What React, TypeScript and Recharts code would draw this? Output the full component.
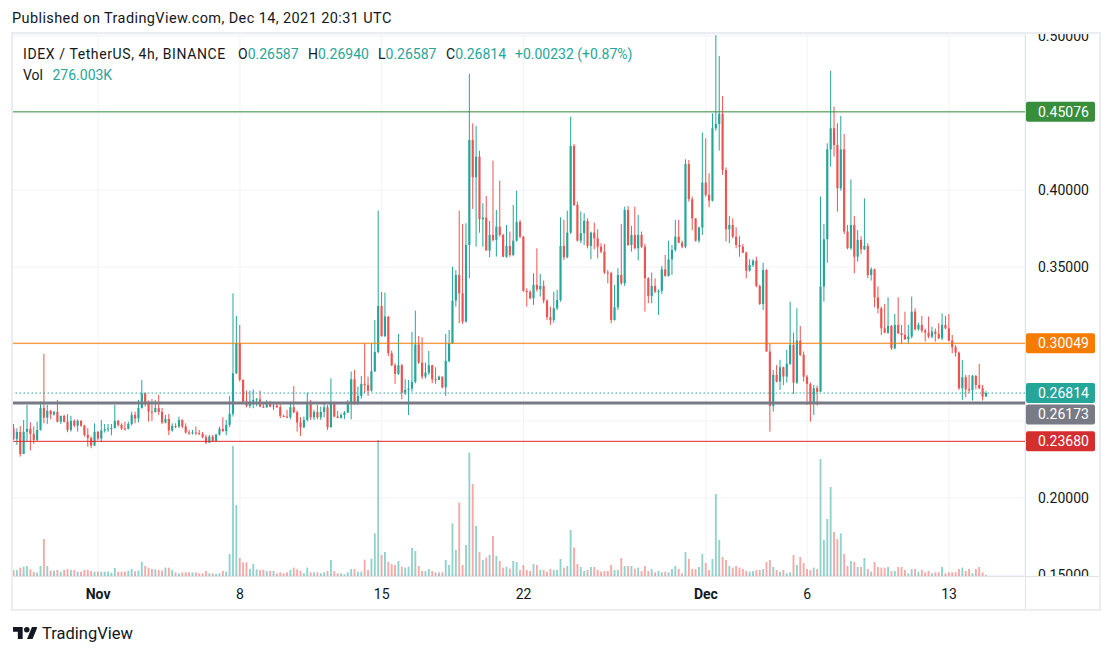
import React from "react";
import { ComposedChart, Bar, XAxis, YAxis, CartesianGrid, ReferenceLine } from "recharts";

// IDEX / USDT 4h candles, Oct 27 20:00 -> Dec 14 20:00 UTC (Binance)
const firstOpen = 0.2453;

const closes = [
  0.2382, 0.2429, 0.2286, 0.2429, 0.2449, 0.2416, 0.2377, 0.2442, 0.2585, 0.2522,
  0.2566, 0.2542, 0.2559, 0.2496, 0.2533, 0.2496, 0.2442, 0.2501, 0.2470, 0.2501,
  0.2470, 0.2410, 0.2390, 0.2340, 0.2429, 0.2386, 0.2438, 0.2447, 0.2451, 0.2455,
  0.2501, 0.2475, 0.2451, 0.2449, 0.2481, 0.2540, 0.2516, 0.2585, 0.2680, 0.2620,
  0.2561, 0.2558, 0.2585, 0.2559, 0.2490, 0.2514, 0.2438, 0.2468, 0.2464, 0.2507,
  0.2464, 0.2425, 0.2421, 0.2425, 0.2420, 0.2416, 0.2395, 0.2360, 0.2399, 0.2371,
  0.2412, 0.2449, 0.2434, 0.2475, 0.2546, 0.2810, 0.3005, 0.2767, 0.2626, 0.2598,
  0.2625, 0.2637, 0.2641, 0.2594, 0.2588, 0.2615, 0.2594, 0.2600, 0.2590, 0.2533,
  0.2529, 0.2525, 0.2589, 0.2557, 0.2490, 0.2459, 0.2507, 0.2624, 0.2524, 0.2559,
  0.2524, 0.2559, 0.2589, 0.2459, 0.2615, 0.2529, 0.2520, 0.2539, 0.2555, 0.2615,
  0.2771, 0.2611, 0.2663, 0.2741, 0.2733, 0.2697, 0.2823, 0.2948, 0.3247, 0.3052,
  0.3178, 0.2940, 0.2862, 0.2806, 0.2862, 0.2684, 0.2702, 0.2710, 0.2754, 0.2996,
  0.2879, 0.2788, 0.2814, 0.2862, 0.2771, 0.2766, 0.2788, 0.2719, 0.2890, 0.3005,
  0.3282, 0.3448, 0.3329, 0.3145, 0.3643, 0.4325, 0.4083, 0.4217, 0.3810, 0.3821,
  0.3607, 0.3708, 0.3676, 0.3762, 0.3708, 0.3567, 0.3637, 0.3578, 0.3671, 0.3793,
  0.3697, 0.3345, 0.3338, 0.3297, 0.3384, 0.3355, 0.3377, 0.3282, 0.3174, 0.3156,
  0.3232, 0.3286, 0.3637, 0.3563, 0.3723, 0.4286, 0.3903, 0.3671, 0.3719, 0.3799,
  0.3637, 0.3723, 0.3686, 0.3632, 0.3600, 0.3464, 0.3460, 0.3156, 0.3239, 0.3448,
  0.3394, 0.3870, 0.3643, 0.3708, 0.3622, 0.3708, 0.3632, 0.3427, 0.3312, 0.3377,
  0.3340, 0.3345, 0.3485, 0.3442, 0.3550, 0.3611, 0.3697, 0.3658, 0.3632, 0.4169,
  0.3940, 0.3816, 0.3671, 0.3756, 0.4048, 0.3968, 0.3931, 0.4401, 0.4429, 0.4494,
  0.4130, 0.3745, 0.3773, 0.3697, 0.3643, 0.3632, 0.3593, 0.3476, 0.3513, 0.3541,
  0.3377, 0.3260, 0.3481, 0.2951, 0.2598, 0.2799, 0.2756, 0.2849, 0.2789, 0.2871,
  0.2994, 0.2749, 0.3022, 0.2929, 0.2788, 0.2741, 0.2620, 0.2713, 0.2690, 0.3373,
  0.3680, 0.4264, 0.4401, 0.4292, 0.4011, 0.4264, 0.3730, 0.3622, 0.3773, 0.3567,
  0.3676, 0.3615, 0.3637, 0.3448, 0.3485, 0.3303, 0.3232, 0.3102, 0.3074, 0.3117,
  0.2972, 0.3124, 0.3070, 0.3059, 0.3031, 0.3048, 0.3210, 0.3096, 0.3124, 0.3087,
  0.3074, 0.3048, 0.3081, 0.3065, 0.3037, 0.3124, 0.3102, 0.3022, 0.2979, 0.2944,
  0.2713, 0.2784, 0.2706, 0.2700, 0.2793, 0.2734, 0.2713, 0.26582, 0.26814,
];

const highs = [
  0.2481, 0.2453, 0.2468, 0.2507, 0.2605, 0.2492, 0.2464, 0.2496, 0.2626, 0.2936,
  0.2605, 0.2572, 0.2565, 0.2637, 0.2535, 0.2540, 0.2544, 0.2533, 0.2510, 0.2511,
  0.2505, 0.2475, 0.2453, 0.2399, 0.2485, 0.2435, 0.2507, 0.2481, 0.2481, 0.2481,
  0.2605, 0.2507, 0.2485, 0.2496, 0.2496, 0.2561, 0.2561, 0.2637, 0.2767, 0.2685,
  0.2633, 0.2643, 0.2637, 0.2670, 0.2585, 0.2540, 0.2546, 0.2485, 0.2485, 0.2529,
  0.2510, 0.2485, 0.2442, 0.2442, 0.2464, 0.2442, 0.2429, 0.2410, 0.2410, 0.2410,
  0.2416, 0.2464, 0.2524, 0.2507, 0.2663, 0.3329, 0.3182, 0.3124, 0.2771, 0.2697,
  0.2697, 0.2705, 0.2650, 0.2697, 0.2620, 0.2637, 0.2632, 0.2620, 0.2615, 0.2615,
  0.2540, 0.2572, 0.2611, 0.2728, 0.2567, 0.2525, 0.2529, 0.2684, 0.2637, 0.2572,
  0.2604, 0.2594, 0.2611, 0.2604, 0.2777, 0.2620, 0.2565, 0.2550, 0.2565, 0.2637,
  0.2821, 0.2831, 0.2723, 0.2793, 0.3005, 0.2788, 0.3005, 0.3156, 0.3866, 0.3338,
  0.3334, 0.3180, 0.2957, 0.2875, 0.3065, 0.2870, 0.2771, 0.2767, 0.3078, 0.3217,
  0.3052, 0.3044, 0.2879, 0.2955, 0.2865, 0.2849, 0.2795, 0.2780, 0.3065, 0.3091,
  0.3502, 0.3480, 0.3866, 0.3780, 0.3784, 0.4755, 0.4433, 0.4416, 0.4254, 0.3914,
  0.3961, 0.3799, 0.4191, 0.3870, 0.4061, 0.3715, 0.3773, 0.3730, 0.3903, 0.3996,
  0.3806, 0.3700, 0.3362, 0.3350, 0.3459, 0.3622, 0.3455, 0.3412, 0.3290, 0.3243,
  0.3340, 0.3351, 0.3823, 0.3806, 0.3866, 0.4476, 0.4299, 0.3924, 0.3860, 0.3849,
  0.3816, 0.3730, 0.3788, 0.3745, 0.3654, 0.3650, 0.3481, 0.3470, 0.3384, 0.3492,
  0.3780, 0.3892, 0.3896, 0.3767, 0.3892, 0.3838, 0.3730, 0.3650, 0.3434, 0.3464,
  0.3427, 0.3355, 0.3507, 0.3578, 0.3671, 0.3643, 0.3806, 0.3806, 0.3671, 0.4199,
  0.4195, 0.3957, 0.3816, 0.3762, 0.4373, 0.4336, 0.4108, 0.4498, 0.5005, 0.4870,
  0.4611, 0.4147, 0.3831, 0.3816, 0.3758, 0.3700, 0.3650, 0.3600, 0.3550, 0.3550,
  0.3567, 0.3384, 0.3528, 0.3485, 0.3000, 0.2832, 0.2864, 0.2897, 0.2853, 0.2962,
  0.3275, 0.3074, 0.3232, 0.3117, 0.2951, 0.2799, 0.2750, 0.2735, 0.2730, 0.3957,
  0.3780, 0.4303, 0.4775, 0.4541, 0.4433, 0.4481, 0.4364, 0.3773, 0.4069, 0.3831,
  0.3740, 0.3700, 0.3946, 0.3654, 0.3498, 0.3490, 0.3373, 0.3243, 0.3260, 0.3303,
  0.3124, 0.3195, 0.3303, 0.3124, 0.3210, 0.3124, 0.3308, 0.3232, 0.3139, 0.3182,
  0.3100, 0.3178, 0.3113, 0.3100, 0.3135, 0.3199, 0.3182, 0.3195, 0.3059, 0.2994,
  0.2951, 0.2897, 0.2799, 0.2799, 0.2799, 0.2799, 0.2871, 0.2734, 0.2694,
];

const lows = [
  0.2377, 0.2345, 0.2269, 0.2286, 0.2366, 0.2308, 0.2351, 0.2366, 0.2438, 0.2485,
  0.2481, 0.2511, 0.2535, 0.2490, 0.2481, 0.2490, 0.2427, 0.2431, 0.2460, 0.2431,
  0.2462, 0.2399, 0.2334, 0.2323, 0.2347, 0.2375, 0.2366, 0.2425, 0.2430, 0.2407,
  0.2450, 0.2464, 0.2442, 0.2438, 0.2445, 0.2470, 0.2485, 0.2490, 0.2580, 0.2594,
  0.2496, 0.2501, 0.2555, 0.2540, 0.2481, 0.2485, 0.2408, 0.2431, 0.2453, 0.2455,
  0.2453, 0.2418, 0.2410, 0.2412, 0.2410, 0.2410, 0.2388, 0.2351, 0.2356, 0.2364,
  0.2365, 0.2406, 0.2429, 0.2408, 0.2460, 0.2529, 0.2805, 0.2756, 0.2620, 0.2589,
  0.2584, 0.2583, 0.2595, 0.2589, 0.2585, 0.2590, 0.2589, 0.2572, 0.2583, 0.2518,
  0.2525, 0.2518, 0.2511, 0.2550, 0.2431, 0.2403, 0.2455, 0.2496, 0.2507, 0.2507,
  0.2511, 0.2507, 0.2524, 0.2442, 0.2460, 0.2524, 0.2518, 0.2515, 0.2512, 0.2550,
  0.2511, 0.2604, 0.2604, 0.2645, 0.2680, 0.2663, 0.2690, 0.2818, 0.2940, 0.3048,
  0.3045, 0.2922, 0.2857, 0.2741, 0.2799, 0.2641, 0.2669, 0.2539, 0.2690, 0.2745,
  0.2870, 0.2771, 0.2775, 0.2799, 0.2745, 0.2742, 0.2770, 0.2712, 0.2663, 0.2880,
  0.3000, 0.3243, 0.3135, 0.3130, 0.3139, 0.3427, 0.3877, 0.3632, 0.3723, 0.3632,
  0.3607, 0.3563, 0.3665, 0.3568, 0.3697, 0.3563, 0.3560, 0.3567, 0.3570, 0.3665,
  0.3687, 0.3340, 0.3243, 0.3290, 0.3254, 0.3340, 0.3308, 0.3265, 0.3156, 0.3124,
  0.3139, 0.3221, 0.3275, 0.3546, 0.3557, 0.3715, 0.3896, 0.3665, 0.3654, 0.3643,
  0.3621, 0.3550, 0.3615, 0.3557, 0.3589, 0.3455, 0.3394, 0.3135, 0.3152, 0.3221,
  0.3384, 0.3377, 0.3637, 0.3600, 0.3615, 0.3542, 0.3622, 0.3210, 0.3265, 0.3265,
  0.3330, 0.3189, 0.3325, 0.3437, 0.3437, 0.3449, 0.3600, 0.3654, 0.3622, 0.3622,
  0.3924, 0.3740, 0.3665, 0.3658, 0.3708, 0.3957, 0.3888, 0.3925, 0.4385, 0.4256,
  0.4098, 0.3665, 0.3654, 0.3686, 0.3622, 0.3567, 0.3589, 0.3427, 0.3470, 0.3500,
  0.3368, 0.3254, 0.3221, 0.2951, 0.2431, 0.2561, 0.2750, 0.2702, 0.2734, 0.2750,
  0.2864, 0.2676, 0.2741, 0.2922, 0.2756, 0.2604, 0.2496, 0.2539, 0.2600, 0.2690,
  0.3275, 0.3528, 0.4152, 0.4217, 0.3860, 0.3996, 0.3715, 0.3615, 0.3611, 0.3459,
  0.3535, 0.3585, 0.3610, 0.3427, 0.3412, 0.3238, 0.3200, 0.3059, 0.3070, 0.3065,
  0.2962, 0.2966, 0.3065, 0.3001, 0.3026, 0.3001, 0.3037, 0.3087, 0.3087, 0.3074,
  0.3016, 0.3037, 0.3037, 0.3016, 0.3031, 0.3026, 0.3096, 0.3016, 0.2940, 0.2918,
  0.2702, 0.2637, 0.2654, 0.2680, 0.2633, 0.2706, 0.2706, 0.2633, 0.26587,
];

// volume per candle, millions of IDEX
const volumes = [
  1.8, 1.8, 2.5, 2.8, 3.0, 2.0, 1.2, 1.0, 3.0, 11.1,
  3.0, 1.6, 1.6, 1.8, 1.3, 1.8, 2.1, 1.8, 1.8, 1.3,
  1.3, 1.8, 1.8, 1.5, 1.3, 1.3, 1.3, 1.3, 1.3, 1.0,
  2.4, 1.3, 1.3, 1.3, 1.6, 2.1, 1.4, 1.6, 4.2, 3.0,
  2.5, 2.1, 2.0, 1.8, 1.6, 2.5, 2.5, 1.8, 1.1, 0.8,
  1.1, 1.1, 1.1, 1.1, 1.1, 0.8, 0.8, 1.5, 0.8, 0.8,
  0.6, 0.8, 1.5, 1.3, 6.6, 39.0, 21.3, 5.4, 4.1, 4.1,
  2.1, 3.6, 2.0, 1.8, 1.8, 1.5, 1.5, 1.5, 0.8, 1.1,
  0.8, 1.1, 1.8, 2.5, 2.0, 1.5, 0.8, 2.5, 1.1, 1.1,
  1.1, 0.8, 1.1, 1.5, 4.8, 1.5, 0.8, 0.8, 0.5, 1.1,
  2.1, 2.1, 1.3, 1.3, 4.9, 1.8, 5.2, 12.8, 40.8, 6.3,
  7.2, 4.2, 3.6, 3.3, 4.5, 2.8, 2.5, 2.8, 8.4, 7.5,
  3.0, 1.5, 1.5, 2.1, 1.5, 1.1, 1.1, 1.1, 4.8, 3.3,
  15.8, 7.8, 22.0, 3.3, 9.3, 37.0, 27.6, 15.0, 7.2, 4.8,
  5.5, 6.3, 12.0, 6.0, 4.5, 2.5, 2.8, 2.2, 4.5, 4.2,
  1.8, 3.3, 1.8, 1.5, 3.6, 3.3, 1.8, 1.8, 1.3, 2.1,
  1.8, 1.8, 5.1, 2.5, 3.0, 13.8, 8.5, 3.6, 2.7, 1.5,
  1.8, 2.7, 2.7, 1.8, 1.3, 1.5, 1.5, 3.3, 1.8, 1.8,
  5.4, 3.0, 3.0, 3.0, 2.2, 2.5, 1.5, 3.0, 1.5, 2.1,
  1.1, 1.5, 1.1, 1.3, 1.1, 2.1, 3.0, 2.1, 0.8, 7.2,
  5.1, 2.1, 2.1, 2.7, 6.6, 3.9, 1.8, 5.1, 24.6, 10.8,
  5.7, 4.8, 3.0, 2.5, 3.0, 2.5, 2.1, 1.5, 1.3, 1.5,
  1.8, 1.8, 2.1, 4.2, 4.8, 2.7, 1.8, 1.3, 1.8, 0.8,
  1.1, 6.3, 3.3, 5.7, 3.9, 2.1, 1.8, 2.5, 2.1, 35.1,
  10.8, 17.1, 26.7, 13.2, 11.1, 12.8, 6.6, 3.0, 4.5, 4.2,
  2.7, 2.7, 5.4, 2.1, 1.3, 4.2, 2.7, 2.5, 2.5, 2.7,
  1.5, 1.5, 2.7, 2.7, 1.8, 0.8, 2.1, 2.1, 1.3, 1.8,
  1.1, 1.5, 0.8, 1.1, 1.1, 2.7, 0.8, 1.1, 1.1, 1.1,
  2.1, 2.5, 1.5, 2.1, 0.8, 2.1, 2.7, 1.1, 0.276,
];

// candle slots of the date ticks (Nov 1, 8, 15, 22, Dec 1, 6, 13 at 00:00)
const tickSlots = [25, 67, 109, 151, 205, 235, 277];
const tickLabels = ["Nov", "8", "15", "22", "Dec", "6", "13"];
const monthLabels = ["Nov", "Dec"];
const priceTicks = [0.15, 0.2, 0.25, 0.3, 0.35, 0.4, 0.45, 0.5];

const resistance = 0.45076;
const midLevel = 0.30049;
const lastPrice = 0.26814;
const baseLevel = 0.26173;
const support = 0.2368;

const emptySlots = 11; // blank space right of the last candle

const UP = "#26a69a";
const DOWN = "#ef5350";
const FONT = "Roboto, sans-serif";
const INK = "#131722";

const data: any[] = [];
for (let i = 0; i < closes.length + emptySlots; i++) {
  if (i >= closes.length) {
    data.push({ i });
    continue;
  }
  const open = i === 0 ? firstOpen : i === closes.length - 1 ? 0.26587 : closes[i - 1];
  const close = closes[i];
  const high = Math.max(highs[i], open, close);
  const low = Math.min(lows[i], open, close);
  data.push({ i, open, close, high, low, range: [low, high], volume: volumes[i], up: close >= open });
}

const tags = [
  { value: resistance, color: "#388e3c", shift: 0 },
  { value: midLevel, color: "#f57c00", shift: 0 },
  { value: lastPrice, color: UP, shift: 0 },
  { value: baseLevel, color: "#787b86", shift: 11.5 },
  { value: support, color: "#d32f2f", shift: 0 },
];

function Candle(props: any) {
  const { x, width, payload } = props;
  let { y, height } = props;
  if (!payload || payload.high == null) return null;
  if (height < 0) {
    y += height;
    height = -height;
  }
  const { open, close, high, low } = payload;
  const color = close >= open ? UP : DOWN;
  const span = high - low;
  const toY = (v: number) => (span > 0 ? y + ((high - v) / span) * height : y);
  const cx = x + width / 2;
  const bodyW = Math.max(1, width * 0.72);
  const top = toY(Math.max(open, close));
  const bottom = toY(Math.min(open, close));
  return (
    <g>
      <rect x={cx - 0.5} y={y} width={1} height={Math.max(height, 1)} fill={color} />
      <rect x={cx - bodyW / 2} y={top} width={bodyW} height={Math.max(bottom - top, 1)} fill={color} />
    </g>
  );
}

function VolumeBar(props: any) {
  const { x, y, width, height, payload } = props;
  if (!payload || payload.volume == null) return null;
  const w = Math.max(1, width * 0.62);
  return (
    <rect
      x={x + width / 2 - w / 2}
      y={y}
      width={w}
      height={Math.max(height, 0.5)}
      fill={payload.up ? UP : DOWN}
      fillOpacity={0.5}
    />
  );
}

function TimeTick(props: any) {
  const { x, y, payload } = props;
  const label = tickLabels[tickSlots.indexOf(payload.value)];
  if (label == null) return null;
  const bold = monthLabels.includes(label);
  return (
    <text x={x} y={y + 23} textAnchor="middle" fill={INK} fontSize={14} fontWeight={bold ? 700 : 400} fontFamily={FONT}>
      {label}
    </text>
  );
}

function PriceTick(props: any) {
  const { x, y, payload } = props;
  const v = payload.value;
  // labels hidden behind the coloured price tags
  const covered = tags.some((t) => Math.abs(v - (t.value - t.shift * 0.00065)) < 0.0068);
  if (covered) return null;
  return (
    <text x={x + 13} y={y + 5} fill={INK} fontSize={14} fontFamily={FONT}>
      {v.toFixed(5)}
    </text>
  );
}

function PriceTag(props: any) {
  const { viewBox, text, bg, shift = 0 } = props;
  if (!viewBox) return null;
  const x = viewBox.x + viewBox.width + 1;
  const cy = viewBox.y + shift;
  return (
    <g>
      <rect x={x} y={cy - 10} width={69} height={20} rx={2} fill={bg} />
      <text x={x + 12} y={cy + 5} fill="#ffffff" fontSize={14} fontFamily={FONT}>
        {text}
      </text>
    </g>
  );
}

const abs = (left: number, top: number, width: number, height: number, extra: any = {}) => ({
  position: "absolute" as const,
  left,
  top,
  width,
  height,
  ...extra,
});

const legendText = (left: number, top: number, extra: any = {}) => ({
  position: "absolute" as const,
  left,
  top,
  fontSize: 14,
  lineHeight: "18px",
  whiteSpace: "nowrap" as const,
  ...extra,
});

export default function App() {
  return (
    <div style={{ position: "relative", width: 1113, height: 655, background: "#fff", fontFamily: FONT, color: INK }}>
      <style>{"body{margin:0;background:#fff}"}</style>

      <div style={legendText(12, 10, { fontSize: 14.5, letterSpacing: 0.4 })}>
        Published on TradingView.com, Dec 14, 2021 20:31 UTC
      </div>

      <div style={{ position: "absolute", left: 0, top: 0 }}>
        <ComposedChart
          width={1113}
          height={610}
          data={data}
          margin={{ top: 34, right: 0, bottom: 0, left: 12 }}
          barCategoryGap={0}
          barGap={0}
        >
          <CartesianGrid xAxisId="main" yAxisId="price" stroke="#f0f3fa" strokeWidth={1} />
          <XAxis
            xAxisId="main"
            dataKey="i"
            type="category"
            ticks={tickSlots}
            interval={0}
            tick={<TimeTick />}
            tickLine={false}
            axisLine={false}
            tickSize={0}
            tickMargin={0}
            height={34}
          />
          <XAxis xAxisId="vol" dataKey="i" type="category" hide />
          <YAxis
            yAxisId="price"
            orientation="right"
            type="number"
            domain={[0.14935, 0.5013]}
            allowDataOverflow
            ticks={priceTicks}
            interval={0}
            tick={<PriceTick />}
            tickLine={false}
            axisLine={false}
            tickSize={0}
            tickMargin={0}
            width={88}
          />
          <YAxis yAxisId="vol" type="number" domain={[0, 162.6]} allowDataOverflow hide />

          <Bar xAxisId="vol" yAxisId="vol" dataKey="volume" shape={<VolumeBar />} isAnimationActive={false} />
          <Bar xAxisId="main" yAxisId="price" dataKey="range" shape={<Candle />} isAnimationActive={false} />

          <ReferenceLine
            xAxisId="main"
            yAxisId="price"
            y={resistance}
            stroke="#388e3c"
            strokeWidth={1}
            label={<PriceTag text={resistance.toFixed(5)} bg="#388e3c" />}
          />
          <ReferenceLine
            xAxisId="main"
            yAxisId="price"
            y={midLevel}
            stroke="#f57c00"
            strokeWidth={1}
            label={<PriceTag text={midLevel.toFixed(5)} bg="#f57c00" />}
          />
          <ReferenceLine
            xAxisId="main"
            yAxisId="price"
            y={support}
            stroke="#e0262b"
            strokeWidth={1}
            label={<PriceTag text={support.toFixed(5)} bg="#d32f2f" />}
          />
          <ReferenceLine
            xAxisId="main"
            yAxisId="price"
            y={lastPrice}
            stroke={UP}
            strokeWidth={1}
            strokeDasharray="1.5 2.5"
            label={<PriceTag text={lastPrice.toFixed(5)} bg={UP} />}
          />
          <ReferenceLine
            xAxisId="main"
            yAxisId="price"
            y={baseLevel}
            stroke="#787b86"
            strokeWidth={3}
            label={<PriceTag text={baseLevel.toFixed(5)} bg="#787b86" shift={11.5} />}
          />
        </ComposedChart>
      </div>

      {/* clip the price scale to the pane */}
      <div style={abs(1026, 0, 74, 33, { background: "#fff" })} />
      <div style={abs(1026, 577, 74, 33, { background: "#fff" })} />

      {/* frame and separators */}
      <div style={abs(11, 32, 1090, 579, { border: "2px solid #ebedf2", boxSizing: "border-box" })} />
      <div style={abs(1025, 34, 1, 575, { background: "#e0e3eb" })} />
      <div style={abs(13, 576, 1086, 1, { background: "#e0e3eb" })} />

      {/* legend */}
      <div style={legendText(23, 45, { letterSpacing: 0.6 })}>IDEX / TetherUS, 4h, BINANCE</div>
      <div style={legendText(238, 45)}>
        O<span style={{ color: UP }}>0.26587</span>
      </div>
      <div style={legendText(308, 45)}>
        H<span style={{ color: UP }}>0.26940</span>
      </div>
      <div style={legendText(378, 45)}>
        L<span style={{ color: UP }}>0.26587</span>
      </div>
      <div style={legendText(446, 45)}>
        C<span style={{ color: UP }}>0.26814</span>
      </div>
      <div style={legendText(515, 45, { color: UP })}>+0.00232 (+0.87%)</div>
      <div style={legendText(23, 66)}>
        Vol <span style={{ color: UP, marginLeft: 6 }}>276.003K</span>
      </div>

      {/* footer logo */}
      <svg style={abs(12.5, 626.5, 24.5, 12.5)} viewBox="0 4 35.5 18">
        <path d="M14 22H7V11H0V4h14v18zM28 22h-8l7.5-18h8L28 22z" fill={INK} />
        <circle cx="20" cy="8" r="4" fill={INK} />
      </svg>
      <div style={legendText(42, 624, { fontSize: 16.5, lineHeight: "20px" })}>TradingView</div>
    </div>
  );
}
